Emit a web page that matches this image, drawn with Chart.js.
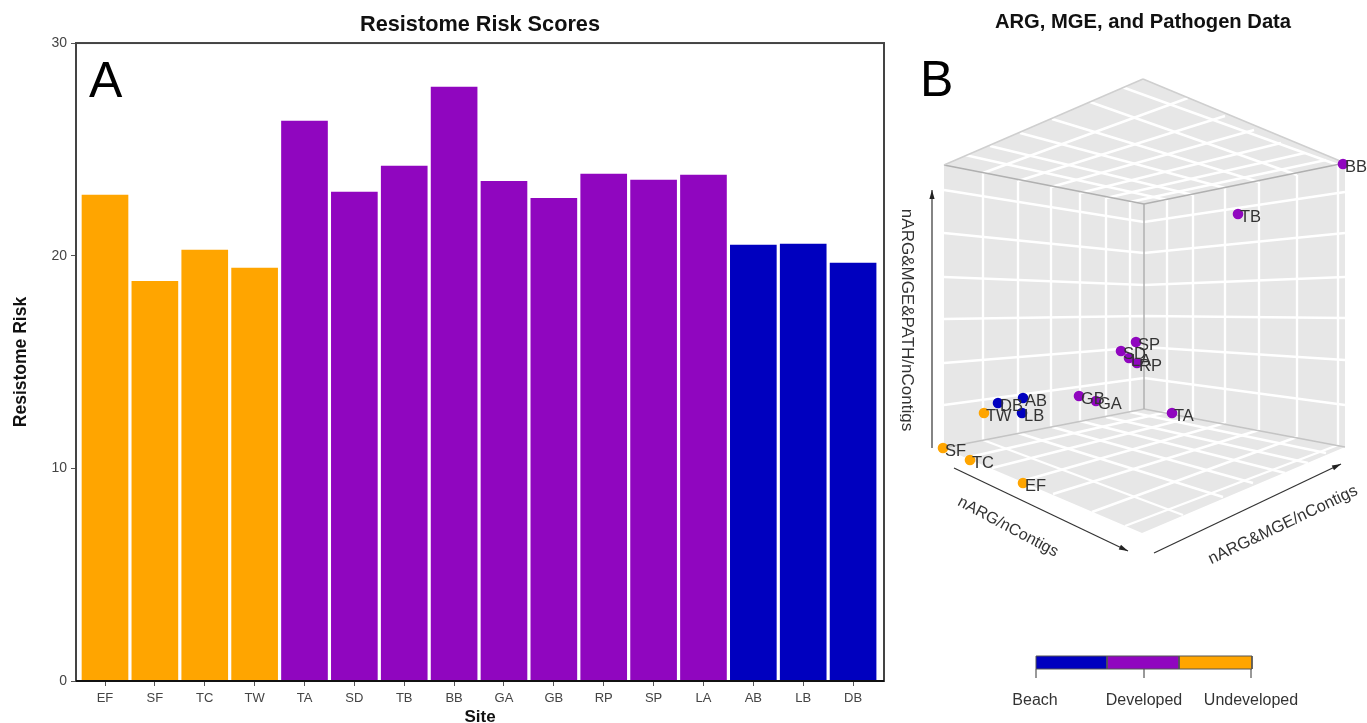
<!DOCTYPE html>
<html>
<head>
<meta charset="utf-8">
<style>
html,body{margin:0;padding:0;background:#fff;width:1367px;height:723px;overflow:hidden}
#wrap{position:relative;width:1367px;height:723px;overflow:hidden}
canvas{filter:blur(0.4px)}
</style>
<script src="https://cdn.jsdelivr.net/npm/chart.js@4/dist/chart.umd.min.js"></script>
</head>
<body>
<div id="wrap">
<div style="position:absolute;left:0;top:0;width:900px;height:723px"><canvas id="a"></canvas></div>
<div style="position:absolute;left:900px;top:0;width:486px;height:723px"><canvas id="bc"></canvas></div>
</div>
<script>
const FONT = '"Liberation Sans", Arial, sans-serif';
const ORANGE = '#FFA500', PURPLE = '#9006BF', BLUE = '#0000BF';

/* Panel A data */
const sites = ['EF','SF','TC','TW','TA','SD','TB','BB','GA','GB','RP','SP','LA','AB','LB','DB'];
const riskScores = [22.85,18.8,20.26,19.42,26.33,22.99,24.21,27.93,23.5,22.7,23.84,23.55,23.79,20.5,20.55,19.65];
const siteGroups = ['U','U','U','U','D','D','D','D','D','D','D','D','D','B','B','B'];
const groupColors = {U:ORANGE, D:PURPLE, B:BLUE};
const yTicks = [0,10,20,30];

/* Panel B data: positions read from the projected 3D view */
const projX = [1023,943,970,984,1172,1121,1238,1343,1096,1079,1137,1136,1129,1023,1022,998];
const projY = [483,448,460,413,413,351,214,164,401,396,363,342,358,398,413,403];
const legendNames = ['Beach','Developed','Undeveloped'];

/* Panel B box */
const paneTop   = [[944,165],[1143,79],[1345,163],[1144,204]];
const paneLeft  = [[944,165],[1144,204],[1144,409],[944,448]];
const paneRight = [[1144,204],[1345,163],[1345,447],[1144,409]];
const paneFloor = [[943,448],[1144,409],[1345,447],[1142,533]];
const wallRows = [[190,222,192],[233,253,233],[277,285,277],[319,316,318],[363,347,360],[405,378,405]];
const wallCols = [[983,173,441],[1018,181,433],[1051,187,427],[1080,193,421],[1106,198,417],[1130,202,412],
                  [1167,200,412],[1193,195,417],[1225,188,423],[1259,182,430],[1297,175,437],[1338,165,445]];
const topLines = [
 [[983,173],[1188,98]],[[1018,181],[1225,116]],[[1051,187],[1254,130]],[[1080,193],[1281,143]],[[1106,198],[1305,153]],[[1130,202],[1326,160]],
 [[965,155],[1167,200]],[[990,146],[1193,195]],[[1020,133],[1225,188]],[[1052,119],[1259,182]],[[1090,102],[1297,175]],[[1122,87],[1338,165]]];
const floorLines = [
 [[983,440],[1183,515]],[[1018,433],[1223,497]],[[1052,427],[1253,483]],[[1080,421],[1285,473]],[[1106,417],[1308,463]],[[1130,412],[1326,453]],
 [[1167,412],[965,458]],[[1193,417],[992,468]],[[1225,423],[1022,481]],[[1259,430],[1053,494]],[[1297,437],[1092,512]],[[1338,445],[1125,526]]];
const boxEdges = [
 [[944,165],[1143,79],'#cfcfcf'],[[1143,79],[1345,163],'#cfcfcf'],
 [[944,165],[1144,204],'#b0b0b0'],[[1144,204],[1345,163],'#b0b0b0'],[[1144,204],[1144,409],'#b0b0b0'],
 [[943,448],[1144,409],'#c4c4c4'],[[1144,409],[1345,447],'#c4c4c4']];
const axisArrows = [[[932,448],[932,190]],[[954,468],[1128,551]],[[1154,553],[1341,464]]];
const legendBar = [[1036,1107,BLUE],[1107,1179,PURPLE],[1179,1252,ORANGE]];
const legendTicks = [1036,1144,1251];

Chart.defaults.font.family = FONT;
Chart.defaults.animation = false;
Chart.defaults.responsive = false;

/* Panel A */
const boxPlugin = {
  id:'boxA',
  afterDatasetsDraw(c){
    const {ctx,chartArea:a} = c;
    ctx.save();
    ctx.strokeStyle='#444'; ctx.lineWidth=2;
    ctx.strokeRect(a.left,a.top,a.right-a.left,a.bottom-a.top);
    ctx.strokeStyle='#111';
    ctx.beginPath(); ctx.moveTo(a.left,a.bottom); ctx.lineTo(a.right,a.bottom); ctx.stroke();
    ctx.fillStyle='#000'; ctx.font='50px '+FONT; ctx.textAlign='left'; ctx.textBaseline='alphabetic';
    ctx.fillText('A',89,97);
    ctx.restore();
  }
};
const cA = document.getElementById('a'); cA.width=900; cA.height=723;
new Chart(cA,{
  type:'bar',
  data:{
    labels:sites,
    datasets:[{
      label:'Resistome Risk',
      data:sites.map((s,i)=>({x:i,y:riskScores[i]})),
      backgroundColor:siteGroups.map(g=>groupColors[g]),
      barThickness:46, borderWidth:0
    }]
  },
  options:{
    layout:{padding:{left:0,right:16,top:0,bottom:0},autoPadding:false},
    plugins:{
      legend:{display:false},tooltip:{enabled:false},
      title:{display:true,text:'Resistome Risk Scores',color:'#111',fullSize:false,
        font:{size:21.7,weight:'bold',family:FONT,lineHeight:1.2},padding:{top:12,bottom:5}}
    },
    scales:{
      x:{type:'linear',min:-0.5815,max:15.62,offset:false,
        afterFit(s){s.height=42;},
        afterBuildTicks(s){s.ticks=sites.map((_,i)=>({value:i}));},
        grid:{offset:false,drawOnChartArea:false,drawTicks:true,tickLength:5,color:'#555'},
        border:{display:false},
        ticks:{autoSkip:false,maxRotation:0,padding:5,color:'#444',font:{size:13},callback:v=>sites[v]},
        title:{display:true,text:'Site',color:'#111',font:{size:17,weight:'bold',lineHeight:1},padding:{top:0,bottom:-3}}
      },
      y:{min:0,max:30,
        afterFit(s){s.width=76;},
        afterBuildTicks(s){s.ticks=yTicks.map(v=>({value:v}));},
        grid:{drawOnChartArea:false,drawTicks:true,tickLength:5,color:'#555'},
        border:{display:false},
        ticks:{padding:4,color:'#444',font:{size:14}},
        title:{display:true,text:'Resistome Risk',color:'#111',font:{size:17.5,weight:'bold',lineHeight:1},padding:{top:12,bottom:0}}
      }
    }
  },
  plugins:[boxPlugin]
});

/* Panel B */
const pts = a => a.map(p=>({x:p[0],y:p[1]}));
const lineDs = (a,color,w) => ({type:'scatter',data:pts(a),showLine:true,pointRadius:0,borderColor:color,borderWidth:w,tension:0,fill:false});
const polyDs = (a,fill,border,w) => ({type:'scatter',data:pts(a.concat([a[0]])),showLine:true,pointRadius:0,borderColor:border||fill,borderWidth:w||0,backgroundColor:fill,tension:0,fill:'shape'});

const groupDs = ['B','D','U'].map(g=>{
  const idx = sites.map((_,i)=>i).filter(i=>siteGroups[i]===g);
  return {type:'scatter',label:legendNames[['B','D','U'].indexOf(g)],
    siteNames:idx.map(i=>sites[i]),
    data:idx.map(i=>({x:projX[i],y:projY[i]})),
    pointRadius:5.3,pointHoverRadius:5.3,backgroundColor:groupColors[g],borderWidth:0,showLine:false};
});

const arrowHead = (tail,tip) => {
  const dx=tip[0]-tail[0],dy=tip[1]-tail[1],l=Math.hypot(dx,dy),ux=dx/l,uy=dy/l;
  return [tip,[tip[0]-ux*9-uy*2.6,tip[1]-uy*9+ux*2.6],[tip[0]-ux*9+uy*2.6,tip[1]-uy*9-ux*2.6]];
};

const deco = [];
axisArrows.forEach(a=>{deco.push(polyDs(arrowHead(a[0],a[1]),'#222')); deco.push(lineDs(a,'#333',1.2));});
legendTicks.forEach(x=>deco.push(lineDs([[x,669],[x,678]],'#555',1.2)));
legendBar.forEach(b=>deco.push(polyDs([[b[0],656],[b[1],656],[b[1],669],[b[0],669]],b[2],'#555',1)));
boxEdges.forEach(e=>deco.push(lineDs([e[0],e[1]],e[2],1.5)));
wallCols.forEach(c=>deco.push(lineDs([[c[0],c[1]],[c[0],c[2]]],'#fff',2.4)));
wallRows.forEach(r=>deco.push(lineDs([[944,r[0]],[1144,r[1]],[1345,r[2]]],'#fff',2.4)));
topLines.forEach(l=>deco.push(lineDs(l,'#fff',2.4)));
floorLines.forEach(l=>deco.push(lineDs(l,'#fff',2.4)));
[paneTop,paneLeft,paneRight,paneFloor].forEach(p=>deco.push(polyDs(p,'#e7e7e7')));

const textPlugin = {
  id:'textB',
  afterDatasetsDraw(c){
    const {ctx,scales:{x,y}} = c;
    ctx.save();
    ctx.textBaseline='middle'; ctx.textAlign='left'; ctx.fillStyle='#333'; ctx.font='16.5px '+FONT;
    c.data.datasets.forEach((d,i)=>{
      if(!d.siteNames) return;
      d.data.forEach((p,k)=>ctx.fillText(d.siteNames[k],x.getPixelForValue(p.x)+2,y.getPixelForValue(p.y)+3));
    });
    const rot=(t,cx,cy,ang,size)=>{
      ctx.save(); ctx.translate(x.getPixelForValue(cx),y.getPixelForValue(cy)); ctx.rotate(ang*Math.PI/180);
      ctx.textAlign='center'; ctx.font=size+'px '+FONT; ctx.fillStyle='#333'; ctx.fillText(t,0,0); ctx.restore();
    };
    rot('nARG&MGE&PATH/nContigs',907,320,90,17);
    rot('nARG/nContigs',1008,527,28,16);
    rot('nARG&MGE/nContigs',1283,525,-25.5,16.5);
    ctx.font='16px '+FONT; ctx.textAlign='center';
    [[1035,'Beach'],[1144,'Developed'],[1251,'Undeveloped']].forEach(l=>ctx.fillText(l[1],x.getPixelForValue(l[0]),y.getPixelForValue(701)));
    ctx.fillStyle='#000'; ctx.font='50px '+FONT; ctx.textAlign='left'; ctx.textBaseline='alphabetic';
    ctx.fillText('B',x.getPixelForValue(920),y.getPixelForValue(96));
    ctx.restore();
  }
};
const cB = document.getElementById('bc'); cB.width=486; cB.height=723;
new Chart(cB,{
  type:'scatter',
  data:{datasets:groupDs.concat(deco)},
  options:{
    layout:{padding:0,autoPadding:false},
    plugins:{
      legend:{display:false},tooltip:{enabled:false},
      title:{display:true,text:'ARG, MGE, and Pathogen Data',color:'#111',
        font:{size:20.2,weight:'bold',family:FONT,lineHeight:1.2},padding:{top:10,bottom:7}}
    },
    scales:{
      x:{type:'linear',min:900,max:1386,display:false},
      y:{type:'linear',min:41.24,max:723,reverse:true,display:false}
    }
  },
  plugins:[textPlugin]
});
</script>
</body>
</html>
